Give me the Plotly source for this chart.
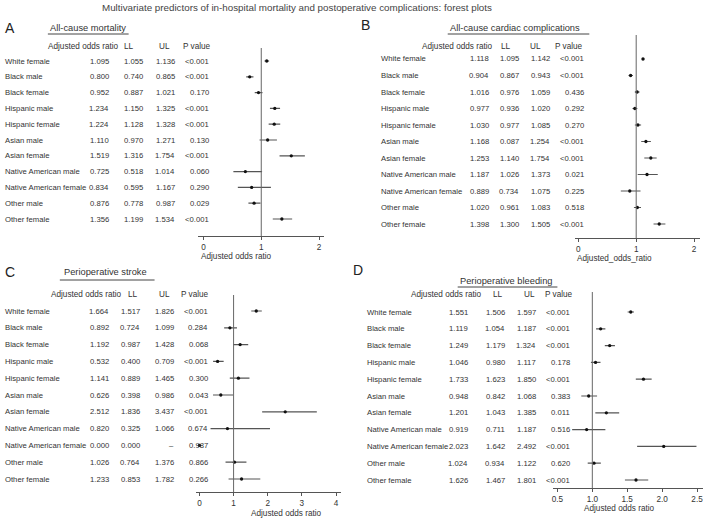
import plotly.graph_objects as go

W, H = 704, 520
FONT = "Liberation Sans, Arial, sans-serif"
TXT = "#333333"

groups = ["White female", "Black male", "Black female", "Hispanic male", "Hispanic female",
          "Asian male", "Asian female", "Native American male", "Native American female",
          "Other male", "Other female"]

# Panel A: all-cause mortality
a_or = [1.095, 0.800, 0.952, 1.234, 1.224, 1.110, 1.519, 0.725, 0.834, 0.876, 1.356]
a_ll = [1.055, 0.740, 0.887, 1.150, 1.128, 0.970, 1.316, 0.518, 0.595, 0.778, 1.199]
a_ul = [1.136, 0.865, 1.021, 1.325, 1.328, 1.271, 1.754, 1.014, 1.167, 0.987, 1.534]
a_p = ["<0.001", "<0.001", "0.170", "<0.001", "<0.001", "0.130", "<0.001", "0.060", "0.290", "0.029", "<0.001"]

# Panel B: all-cause cardiac complications
b_or = [1.118, 0.904, 1.016, 0.977, 1.030, 1.168, 1.253, 1.187, 0.889, 1.020, 1.398]
b_ll = [1.095, 0.867, 0.976, 0.936, 0.977, 0.087, 1.140, 1.026, 0.734, 0.961, 1.300]
b_ul = [1.142, 0.943, 1.059, 1.020, 1.085, 1.254, 1.754, 1.373, 1.075, 1.083, 1.505]
b_p = ["<0.001", "<0.001", "0.436", "0.292", "0.270", "<0.001", "<0.001", "0.021", "0.225", "0.518", "<0.001"]
# interval ends as they are drawn in the plot
b_ll_drawn = [1.095, 0.867, 0.976, 0.936, 0.977, 1.087, 1.140, 1.026, 0.734, 0.961, 1.300]
b_ul_drawn = [1.142, 0.943, 1.059, 1.020, 1.085, 1.254, 1.354, 1.373, 1.075, 1.083, 1.505]

# Panel C: perioperative stroke
c_or = [1.664, 0.892, 1.192, 0.532, 1.141, 0.626, 2.512, 0.820, 0.000, 1.026, 1.233]
c_ll = [1.517, 0.724, 0.987, 0.400, 0.889, 0.398, 1.836, 0.325, 0.000, 0.764, 0.853]
c_ul = [1.826, 1.099, 1.428, 0.709, 1.465, 0.986, 3.437, 1.066, None, 1.376, 1.782]
c_p = ["<0.001", "0.284", "0.068", "<0.001", "0.300", "0.043", "<0.001", "0.674", "0.987", "0.866", "0.266"]
c_ul_drawn = [1.826, 1.099, 1.428, 0.709, 1.465, 0.986, 3.437, 2.066, None, 1.376, 1.782]

# Panel D: perioperative bleeding
d_or = [1.551, 1.119, 1.249, 1.046, 1.733, 0.948, 1.201, 0.919, 2.023, 1.024, 1.626]
d_ll = [1.506, 1.054, 1.179, 0.980, 1.623, 0.842, 1.043, 0.711, 1.642, 0.934, 1.467]
d_ul = [1.597, 1.187, 1.324, 1.117, 1.850, 1.068, 1.385, 1.187, 2.492, 1.122, 1.801]
d_p = ["<0.001", "<0.001", "<0.001", "0.178", "<0.001", "0.383", "0.011", "0.516", "<0.001", "0.620", "<0.001"]

a_ticks = [0, 1, 2]
c_ticks = [0, 1, 2, 3, 4]
d_ticks = [0.5, 1.0, 1.5, 2.0, 2.5]


def X(px):
    return px / W


def Y(py):
    return 1 - py / H


def fmt(v):
    return "–" if v is None else f"{v:.3f}"


panels = [
    dict(key="", letter="A", title="All-cause mortality", xtitle="Adjusted odds ratio",
         orv=a_or, ll=a_ll, ul=a_ul, p=a_p, lld=a_ll, uld=a_ul,
         p0=61, s=15.8, axis_y=236, top=48, v0=0, px0=202, ppu=58, lx0=197, lx1=323,
         ticks=a_ticks, ticktext=["0", "1", "2"],
         cols=dict(lab=3, orr=107, ll=141, ul=173, p=208), hdr_y=46,
         hdr=dict(aor=46, ll=122, ul=157, p=182),
         let_xy=(3, 28), tit_xy=(48, 28), ul_line=(46, 127, 34), xt=(200, 256, "left")),
    dict(key="2", letter="B", title="All-cause cardiac complications", xtitle="Adjusted_odds_ratio",
         orv=b_or, ll=b_ll, ul=b_ul, p=b_p, lld=b_ll_drawn, uld=b_ul_drawn,
         p0=59, s=16.5, axis_y=238, top=35, v0=0, px0=578, ppu=58, lx0=575, lx1=700,
         ticks=a_ticks, ticktext=["0", "1", "2"],
         cols=dict(lab=380, orr=488, ll=518, ul=550, p=584), hdr_y=46,
         hdr=dict(aor=421, ll=500, ul=530, p=555),
         let_xy=(360, 25), tit_xy=(449, 28), ul_line=(447, 589, 34), xt=(577, 258, "left")),
    dict(key="3", letter="C", title="Perioperative stroke", xtitle="Adjusted odds ratio",
         orv=c_or, ll=c_ll, ul=c_ul, p=c_p, lld=c_ll, uld=c_ul_drawn,
         p0=311, s=16.8, axis_y=492, top=295, v0=0, px0=198, ppu=34.25, lx0=195, lx1=340,
         ticks=c_ticks, ticktext=["0", "1", "2", "3", "4"],
         cols=dict(lab=3, orr=107, ll=138, ul=172, p=207), hdr_y=294,
         hdr=dict(aor=49, ll=126, ul=157, p=180),
         let_xy=(3, 272), tit_xy=(62, 272), ul_line=(58, 153, 280), xt=(285, 513, "center")),
    dict(key="4", letter="D", title="Perioperative bleeding", xtitle="Adjusted odds ratio",
         orv=d_or, ll=d_ll, ul=d_ul, p=d_p, lld=d_ll, uld=d_ul,
         p0=312, s=16.8, axis_y=488, top=292, v0=1.0, px0=592, ppu=70, lx0=553, lx1=703,
         ticks=d_ticks, ticktext=["0.5", "1.0", "1.5", "2.0", "2.5"],
         cols=dict(lab=366, orr=467, ll=504, ul=536, p=570), hdr_y=294,
         hdr=dict(aor=410, ll=492, ul=523, p=545),
         let_xy=(352, 270), tit_xy=(459, 281), ul_line=(457, 557, 287), xt=(619, 508, "center")),
]

fig = go.Figure()
annotations = []
shapes = []
layout_axes = {}


def note(text, x, y, yref="paper", xanchor="left", size=7.7, color=TXT):
    return dict(text=text, x=x, y=y, xref="paper", yref=yref, xanchor=xanchor, yanchor="middle",
                showarrow=False, borderpad=0, borderwidth=0,
                font=dict(family=FONT, size=size, color=color))


for pn in panels:
    k = pn["key"]
    xa, ya = "x" + k, "y" + k
    n = len(groups)
    rows = list(range(n))
    # CI lines
    lx, ly = [], []
    for i in rows:
        if pn["lld"][i] is not None and pn["uld"][i] is not None:
            lx += [pn["lld"][i], pn["uld"][i], None]
            ly += [i, i, None]
    fig.add_trace(go.Scatter(x=lx, y=ly, mode="lines", xaxis=xa, yaxis=ya,
                             line=dict(color="#555555", width=1.2), showlegend=False, hoverinfo="skip"))
    fig.add_trace(go.Scatter(x=pn["orv"], y=rows, mode="markers", xaxis=xa, yaxis=ya,
                             marker=dict(color="#111111", size=3.3, symbol="circle"),
                             showlegend=False))
    # axes
    xr = [pn["v0"] + (pn["lx0"] - pn["px0"]) / pn["ppu"], pn["v0"] + (pn["lx1"] - pn["px0"]) / pn["ppu"]]
    yr = [(pn["axis_y"] - pn["p0"]) / pn["s"], (pn["top"] - pn["p0"]) / pn["s"]]
    layout_axes["xaxis" + k] = dict(domain=[X(pn["lx0"]), X(pn["lx1"])], range=xr, anchor=ya,
                                    showgrid=False, zeroline=False, showline=True, linecolor="#555555",
                                    linewidth=1, ticks="outside", ticklen=3, tickcolor="#555555",
                                    tickvals=pn["ticks"], ticktext=pn["ticktext"],
                                    tickfont=dict(family=FONT, size=8.2, color=TXT), fixedrange=True)
    layout_axes["yaxis" + k] = dict(domain=[Y(pn["axis_y"]), Y(pn["top"])], range=yr, anchor=xa,
                                    visible=False, fixedrange=True)
    # reference line at 1
    shapes.append(dict(type="line", xref=xa, yref=ya + " domain", x0=1, x1=1, y0=0, y1=1,
                       line=dict(color="#666666", width=1)))
    # table rows
    c = pn["cols"]
    for i in rows:
        for txt, px, anc in [(groups[i], c["lab"], "left"), (fmt(pn["orv"][i]), c["orr"], "right"),
                             (fmt(pn["ll"][i]), c["ll"], "right"), (fmt(pn["ul"][i]), c["ul"], "right"),
                             (pn["p"][i], c["p"], "right")]:
            annotations.append(note(txt, X(px), i, yref=ya, xanchor=anc))
    # header
    hd = pn["hdr"]
    for txt, px in [("Adjusted odds ratio", hd["aor"]), ("LL", hd["ll"]), ("UL", hd["ul"]),
                    ("P value", hd["p"])]:
        annotations.append(note(txt, X(px), Y(pn["hdr_y"]), size=8.2))
    # letter and title
    annotations.append(note(pn["letter"], X(pn["let_xy"][0]), Y(pn["let_xy"][1]), size=14, color="#222222"))
    annotations.append(note(pn["title"], X(pn["tit_xy"][0]), Y(pn["tit_xy"][1]), size=9.3))
    u0, u1, uy = pn["ul_line"]
    shapes.append(dict(type="line", xref="paper", yref="paper", x0=X(u0), x1=X(u1), y0=Y(uy), y1=Y(uy),
                       line=dict(color="#444444", width=1)))
    xtx, xty, xta = pn["xt"]
    annotations.append(note(pn["xtitle"], X(xtx), Y(xty), xanchor=xta, size=8.2))

annotations.append(note("Multivariate predictors of in-hospital mortality and postoperative complications: forest plots",
                        X(296), Y(8), xanchor="center", size=9.8, color="#444444"))

fig.update_layout(width=W, height=H, margin=dict(l=0, r=0, t=0, b=0),
                  paper_bgcolor="white", plot_bgcolor="white",
                  annotations=annotations, shapes=shapes, showlegend=False, **layout_axes)

fig.write_html("out.html", config={"displayModeBar": False},
               post_script="document.body.style.margin='0px';")
